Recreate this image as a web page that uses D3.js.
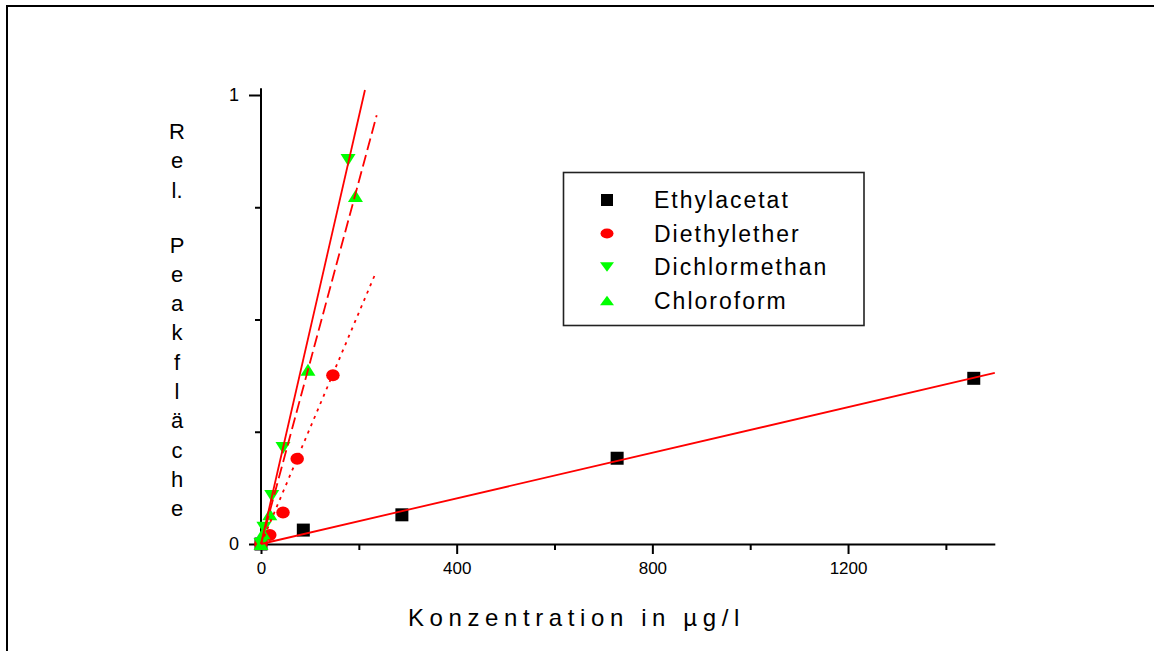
<!DOCTYPE html>
<html>
<head>
<meta charset="utf-8">
<script src="https://cdn.jsdelivr.net/npm/d3@7"></script>
<style>
  html, body { margin: 0; padding: 0; background: #fff; overflow: hidden; }
  svg { display: block; }
  text { font-family: "Liberation Sans", Arial, Helvetica, sans-serif; fill: #000; }
</style>
</head>
<body>
<svg id="chart" width="1154" height="651"></svg>
<script>
// ---------------- data ----------------
const seriesNames = ["Ethylacetat", "Diethylether", "Dichlormethan", "Chloroform"];

const ethylacetatX = [0, 86.5, 288, 728, 1457];
const ethylacetatY = [0, 0.031, 0.065, 0.191, 0.369];

const diethyletherX = [0, 18, 45, 74, 147];
const diethyletherY = [0, 0.02, 0.07, 0.19, 0.376];

const dichlormethanX = [0, 6, 22, 45, 178];
const dichlormethanY = [0, 0.036, 0.107, 0.214, 0.855];

const chloroformX = [0, 4, 18, 96, 193];
const chloroformY = [0, 0.024, 0.066, 0.388, 0.775];

// regression lines (start / end in data units)
const fitX0 = [0, 0, 0, 0];
const fitY0 = [0, 0, 0, 0];
const fitX1 = [1500, 234.5, 212.5, 236.5];
const fitY1 = [0.381, 0.604, 1.011, 0.955];

const xMajorTicks = [0, 400, 800, 1200];
const xMinorTicks = [200, 600, 1000, 1400];
const yMajorTicks = [0, 1];
const yMinorTicks = [0.25, 0.5, 0.75];

const xTitle = "Konzentration in µg/l";
// y title written as stacked rows ("" = empty row)
const yTitleRows = ["R", "e", "l.", "", "P", "e", "a", "k", "f", "l", "ä", "c", "h", "e"];

// ---------------- styles ----------------
const markerKind = ["square", "circle", "down", "up"];
const markerColor = ["#000000", "#ff0000", "#00ff00", "#00ff00"];
const lineDash = [null, "3,5", null, "12,5"];

// ---------------- chart ----------------
const svg = d3.select("#chart");

// outer frame (extends past the right and bottom edge)
svg.append("path")
  .attr("d", "M7,660 V6 H1160")
  .attr("fill", "none").attr("stroke", "#000").attr("stroke-width", 2);

const x = d3.scaleLinear().domain([0, 1500]).range([261, 994.8]);
const y = d3.scaleLinear().domain([0, 1]).range([544, 95]);

// x axis
const gx = svg.append("g").attr("transform", `translate(0,${y(0)})`);
gx.call(d3.axisBottom(x).tickValues(xMajorTicks).tickSize(10).tickSizeOuter(0).tickPadding(8).tickFormat(d3.format("d")));
gx.append("g").call(d3.axisBottom(x).tickValues(xMinorTicks).tickSize(6).tickSizeOuter(0).tickFormat(""))
  .select(".domain").remove();
gx.selectAll("path.domain, line").attr("stroke", "#000").attr("stroke-width", 2);
gx.selectAll("text").style("font-size", "17px").attr("font-family", null);

// y axis
const gy = svg.append("g").attr("transform", `translate(${x(0)},0)`);
gy.call(d3.axisLeft(y).tickValues(yMajorTicks).tickSize(12).tickSizeOuter(0).tickPadding(10).tickFormat(d3.format("d")));
gy.select(".domain").remove();
gy.append("line").attr("x1", 0).attr("x2", 0).attr("y1", y(0)).attr("y2", y(1.015));
gy.append("g").call(d3.axisLeft(y).tickValues(yMinorTicks).tickSize(6).tickFormat(""))
  .select(".domain").remove();
gy.selectAll("line").attr("stroke", "#000").attr("stroke-width", 2);
gy.selectAll("text").style("font-size", "18px").attr("font-family", null);

// symbols
function symbolPath(kind, s) {
  if (kind === "square") { const h = s.sq / 2; return `M${-h},${-h}H${h}V${h}H${-h}Z`; }
  if (kind === "circle") { const rx = s.cw / 2, ry = s.ch / 2; return `M${-rx},0A${rx},${ry} 0 1,0 ${rx},0A${rx},${ry} 0 1,0 ${-rx},0Z`; }
  const w = s.tw / 2, h = s.th / 2;
  if (kind === "down") return `M${-w},${-h}H${w}L0,${h}Z`;
  return `M${-w},${h}H${w}L0,${-h}Z`;
}
const plotSize = { sq: 13, cw: 13.5, ch: 12, tw: 15, th: 12 };
const legendSize = { sq: 12, cw: 13, ch: 10, tw: 14, th: 9.5 };

const allX = [ethylacetatX, diethyletherX, dichlormethanX, chloroformX];
const allY = [ethylacetatY, diethyletherY, dichlormethanY, chloroformY];

seriesNames.forEach((name, i) => {
  const pts = allX[i].map((v, k) => ({ x: v, y: allY[i][k] }));
  svg.append("g").selectAll("path").data(pts).join("path")
    .attr("d", symbolPath(markerKind[i], plotSize))
    .attr("transform", d => `translate(${x(d.x)},${y(d.y)})`)
    .attr("fill", markerColor[i]);
});

// regression lines
seriesNames.forEach((name, i) => {
  svg.append("line")
    .attr("x1", x(fitX0[i])).attr("y1", y(fitY0[i]))
    .attr("x2", x(fitX1[i])).attr("y2", y(fitY1[i]))
    .attr("stroke", "#ff0000").attr("stroke-width", 1.8)
    .attr("stroke-dasharray", lineDash[i]);
});

// legend
const lg = svg.append("g");
lg.append("rect").attr("x", 563.5).attr("y", 172.5).attr("width", 300.5).attr("height", 153)
  .attr("fill", "#fff").attr("stroke", "#222").attr("stroke-width", 1.6);
seriesNames.forEach((name, i) => {
  const cy = 200 + i * 33.5;
  lg.append("path").attr("d", symbolPath(markerKind[i], legendSize))
    .attr("transform", `translate(607,${cy})`).attr("fill", markerColor[i]);
  lg.append("text").attr("x", 654).attr("y", cy).attr("dy", "0.36em")
    .style("font-size", "23px").style("letter-spacing", "2px").text(name);
});

// x title
svg.append("text").attr("x", 408).attr("y", 626)
  .style("font-size", "24px").style("letter-spacing", "5.6px").text(xTitle);

// y title: stacked rows
let rowY = 131;
yTitleRows.forEach(c => {
  if (c === "") { rowY += 25.7; return; }
  svg.append("text").attr("x", 177).attr("y", rowY).attr("text-anchor", "middle")
    .attr("dy", "0.36em").style("font-size", "22px").text(c);
  rowY += 29.3;
});
</script>
</body>
</html>
